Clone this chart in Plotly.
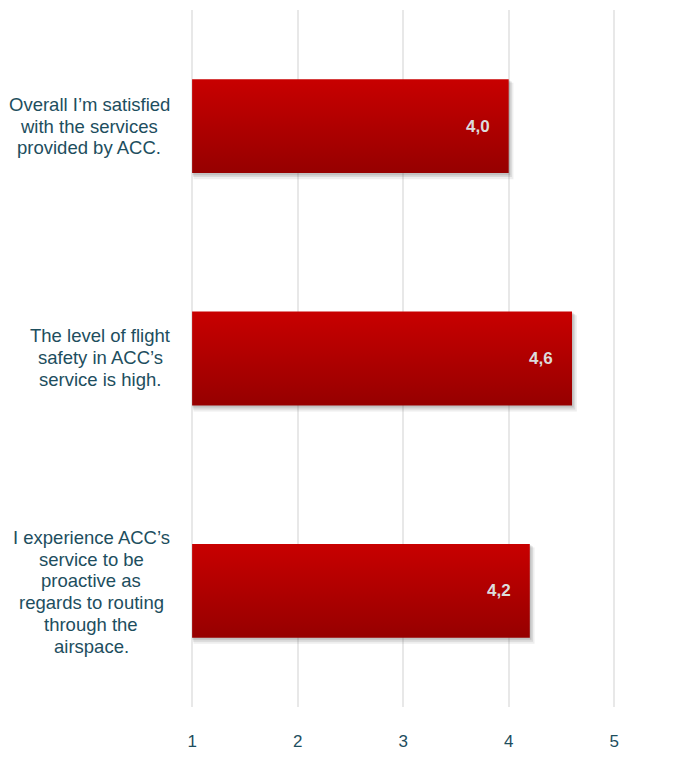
import plotly.graph_objects as go

# Survey statements (top to bottom) and their mean scores on a 1-5 scale
statements = [
    ["Overall I’m satisfied", "with the services", "provided by ACC."],
    ["The level of flight", "safety in ACC’s", "service is high."],
    ["I experience ACC’s", "service to be", "proactive as",
     "regards to routing", "through the", "airspace."],
]
scores = [4.0, 4.6, 4.2]
score_labels = ["4,0", "4,6", "4,2"]
x_ticks = [1, 2, 3, 4, 5]

SCALE_MIN = 1
BAR_HALF = 0.202
TEXT_COLOR = "#1d4e5e"
LABEL_CENTER_PX = [89, 100, 91]   # horizontal centre of each wrapped statement
LABEL_SHIFT_PX = [0, -1, 1]       # vertical nudge of each statement block
LINE_STEP_PX = 21.8

W, H = 680, 781
L, R, T, B = 190, 13, 10, 74

fig = go.Figure()

n = len(statements)
positions = [n - 1 - i for i in range(n)]  # first statement on top

# soft drop shadow below/right of each bar
for pos, val in zip(positions, scores):
    for dx, dy, op in [(0.045, 0.026, 0.10), (0.03, 0.017, 0.14), (0.015, 0.009, 0.18)]:
        x0, x1 = SCALE_MIN + dx * 0.3, val + dx
        y0, y1 = pos - BAR_HALF - dy, pos + BAR_HALF - dy * 0.6
        fig.add_trace(go.Scatter(
            x=[x0, x1, x1, x0, x0], y=[y0, y0, y1, y1, y0],
            mode="lines", fill="toself", line=dict(width=0),
            fillcolor=f"rgba(90,90,90,{op})", hoverinfo="skip", showlegend=False,
        ))

# gradient-filled bars
for pos, val in zip(positions, scores):
    y0, y1 = pos - BAR_HALF, pos + BAR_HALF
    fig.add_trace(go.Scatter(
        x=[SCALE_MIN, val, val, SCALE_MIN, SCALE_MIN], y=[y0, y0, y1, y1, y0],
        mode="lines", fill="toself", line=dict(width=0),
        fillgradient=dict(type="vertical",
                          colorscale=[[0, "#960000"], [1, "#c80000"]]),
        hoverinfo="skip", showlegend=False,
    ))

# value labels inside the bar ends
for pos, val, lab in zip(positions, scores, score_labels):
    fig.add_annotation(
        x=val, y=pos, text=f"<b>{lab}</b>", showarrow=False,
        xanchor="right", yanchor="middle", xshift=-17,
        font=dict(family="Liberation Sans, Arial", size=17, color="#dcdcdc"),
    )

# statement labels left of the plot, one annotation per wrapped line
for i, (pos, lines) in enumerate(zip(positions, statements)):
    m = len(lines)
    for k, line in enumerate(lines):
        fig.add_annotation(
            xref="paper", yref="y", x=(LABEL_CENTER_PX[i] - L) / (W - L - R), y=pos,
            text=line, showarrow=False, xanchor="center", yanchor="middle",
            yshift=((m - 1) / 2 - k) * LINE_STEP_PX - LABEL_SHIFT_PX[i],
            font=dict(family="Liberation Sans, Arial", size=18.5, color=TEXT_COLOR),
        )

fig.update_layout(
    width=W, height=H,
    margin=dict(l=L, r=R, t=T, b=B),
    paper_bgcolor="white", plot_bgcolor="white",
    xaxis=dict(
        range=[SCALE_MIN - 0.02, 5.5], tickvals=x_ticks, ticktext=[str(v) for v in x_ticks],
        showgrid=True, gridcolor="#e8e8e8", gridwidth=2, zeroline=False,
        showline=False, ticks="", ticklabelstandoff=22,
        tickfont=dict(family="Liberation Sans, Arial", size=17, color=TEXT_COLOR),
    ),
    yaxis=dict(
        range=[-0.5, n - 0.5], showgrid=False, zeroline=False,
        showticklabels=False, ticks="",
    ),
)

fig.write_html("out.html")
